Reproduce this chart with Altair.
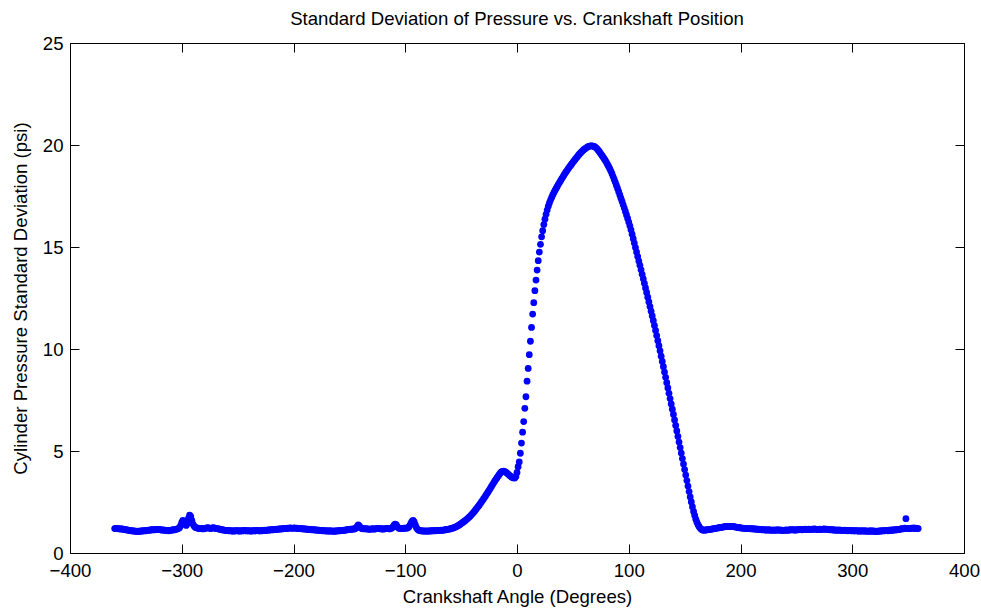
import altair as alt
import pandas as pd

# Standard deviation of cylinder pressure (psi), one value per crank degree, -360 .. 359
std_psi = [
    # -360
    1.20, 1.21, 1.19, 1.20, 1.18, 1.19, 1.17, 1.18, 1.16, 1.15,
    1.14, 1.13, 1.12, 1.11, 1.10, 1.09, 1.08, 1.08, 1.07, 1.07,
    1.06, 1.07, 1.06, 1.08, 1.07, 1.09, 1.08, 1.10, 1.09, 1.11,
    1.12, 1.11, 1.13, 1.14, 1.13, 1.15, 1.14, 1.16, 1.15, 1.16,
    1.15, 1.14, 1.13, 1.12, 1.13, 1.11, 1.10, 1.11, 1.09, 1.10,
    1.11, 1.12, 1.14, 1.13, 1.15, 1.16, 1.18, 1.20, 1.24, 1.34,
    # -300
    1.50, 1.60, 1.55, 1.42, 1.35, 1.45, 1.70, 1.85, 1.80, 1.60,
    1.42, 1.32, 1.26, 1.24, 1.22, 1.20, 1.21, 1.19, 1.20, 1.18,
    1.19, 1.21, 1.22, 1.24, 1.23, 1.21, 1.20, 1.22, 1.24, 1.23,
    1.21, 1.19, 1.20, 1.18, 1.17, 1.15, 1.14, 1.13, 1.12, 1.11,
    1.10, 1.11, 1.09, 1.10, 1.08, 1.09, 1.07, 1.08, 1.09, 1.10,
    1.08, 1.09, 1.07, 1.10, 1.08, 1.09, 1.11, 1.10, 1.08, 1.09,
    # -240
    1.10, 1.08, 1.07, 1.09, 1.10, 1.08, 1.09, 1.11, 1.10, 1.09,
    1.08, 1.10, 1.09, 1.11, 1.12, 1.10, 1.11, 1.13, 1.12, 1.14,
    1.13, 1.15, 1.14, 1.16, 1.15, 1.17, 1.16, 1.18, 1.17, 1.19,
    1.18, 1.20, 1.19, 1.21, 1.20, 1.22, 1.21, 1.23, 1.22, 1.21,
    1.22, 1.23, 1.21, 1.22, 1.20, 1.21, 1.19, 1.20, 1.18, 1.19,
    1.17, 1.18, 1.16, 1.17, 1.15, 1.16, 1.14, 1.15, 1.13, 1.14,
    # -180
    1.12, 1.13, 1.11, 1.12, 1.10, 1.11, 1.09, 1.10, 1.08, 1.09,
    1.08, 1.07, 1.09, 1.08, 1.07, 1.08, 1.06, 1.08, 1.07, 1.09,
    1.08, 1.10, 1.09, 1.11, 1.10, 1.12, 1.11, 1.13, 1.14, 1.16,
    1.15, 1.17, 1.16, 1.18, 1.17, 1.19, 1.22, 1.30, 1.38, 1.32,
    1.24, 1.20, 1.19, 1.18, 1.20, 1.19, 1.17, 1.18, 1.16, 1.17,
    1.18, 1.19, 1.17, 1.18, 1.20, 1.19, 1.21, 1.20, 1.18, 1.19,
    # -120
    1.17, 1.18, 1.20, 1.19, 1.21, 1.20, 1.18, 1.20, 1.22, 1.28,
    1.36, 1.42, 1.38, 1.28, 1.22, 1.20, 1.21, 1.19, 1.20, 1.22,
    1.21, 1.23, 1.22, 1.26, 1.34, 1.45, 1.55, 1.60, 1.52, 1.38,
    1.24, 1.16, 1.12, 1.10, 1.09, 1.08, 1.08, 1.07, 1.08, 1.07,
    1.08, 1.07, 1.08, 1.09, 1.08, 1.09, 1.10, 1.09, 1.10, 1.11,
    1.10, 1.11, 1.12, 1.11, 1.12, 1.13, 1.14, 1.15, 1.16, 1.17,
    # -60
    1.18, 1.20, 1.21, 1.23, 1.25, 1.27, 1.30, 1.33, 1.36, 1.40,
    1.44, 1.48, 1.52, 1.56, 1.60, 1.65, 1.70, 1.75, 1.80, 1.86,
    1.92, 1.98, 2.05, 2.12, 2.19, 2.26, 2.33, 2.41, 2.49, 2.57,
    2.65, 2.73, 2.81, 2.90, 2.98, 3.07, 3.16, 3.25, 3.34, 3.43,
    3.52, 3.60, 3.68, 3.76, 3.84, 3.91, 3.97, 4.00, 4.01, 3.99,
    3.96, 3.92, 3.87, 3.82, 3.77, 3.73, 3.70, 3.68, 3.68, 3.75,
    # 0
    3.95, 4.23, 4.46, 4.89, 5.39, 5.92, 6.44, 7.09, 7.66, 8.42,
    9.05, 9.72, 10.38, 11.06, 11.71, 12.27, 12.86, 13.38, 13.87, 14.33,
    14.75, 15.13, 15.50, 15.80, 16.10, 16.36, 16.60, 16.81, 17.00, 17.16,
    17.30, 17.43, 17.55, 17.66, 17.77, 17.87, 17.97, 18.07, 18.16, 18.25,
    18.34, 18.43, 18.52, 18.61, 18.69, 18.77, 18.85, 18.93, 19.00, 19.07,
    19.15, 19.22, 19.29, 19.36, 19.43, 19.50, 19.56, 19.62, 19.68, 19.73,
    # 60
    19.78, 19.82, 19.86, 19.90, 19.93, 19.95, 19.96, 19.96, 19.95, 19.93,
    19.90, 19.85, 19.79, 19.72, 19.65, 19.57, 19.49, 19.41, 19.33, 19.24,
    19.15, 19.05, 18.95, 18.84, 18.72, 18.59, 18.45, 18.31, 18.17, 18.02,
    17.87, 17.71, 17.55, 17.39, 17.23, 17.07, 16.91, 16.74, 16.57, 16.40,
    16.22, 16.04, 15.84, 15.63, 15.41, 15.19, 14.97, 14.75, 14.53, 14.31,
    14.10, 13.88, 13.66, 13.44, 13.22, 12.99, 12.77, 12.54, 12.31, 12.08,
    # 120
    11.85, 11.62, 11.39, 11.15, 10.91, 10.66, 10.41, 10.16, 9.91, 9.65,
    9.39, 9.13, 8.87, 8.61, 8.35, 8.09, 7.83, 7.57, 7.31, 7.05,
    6.79, 6.52, 6.25, 5.98, 5.71, 5.44, 5.17, 4.90, 4.63, 4.36,
    4.09, 3.82, 3.55, 3.28, 3.01, 2.75, 2.50, 2.26, 2.04, 1.84,
    1.66, 1.51, 1.39, 1.29, 1.21, 1.16, 1.13, 1.12, 1.12, 1.13,
    1.14, 1.15, 1.15, 1.16, 1.17, 1.18, 1.19, 1.20, 1.21, 1.22,
    # 180
    1.23, 1.24, 1.25, 1.26, 1.27, 1.28, 1.29, 1.30, 1.30, 1.31,
    1.31, 1.31, 1.30, 1.30, 1.29, 1.28, 1.27, 1.26, 1.25, 1.24,
    1.23, 1.22, 1.22, 1.21, 1.21, 1.20, 1.20, 1.19, 1.20, 1.19,
    1.18, 1.19, 1.18, 1.17, 1.18, 1.16, 1.17, 1.15, 1.16, 1.14,
    1.15, 1.13, 1.14, 1.12, 1.13, 1.14, 1.12, 1.13, 1.11, 1.12,
    1.13, 1.11, 1.12, 1.14, 1.12, 1.13, 1.11, 1.12, 1.10, 1.11,
    # 240
    1.12, 1.13, 1.11, 1.12, 1.14, 1.13, 1.15, 1.13, 1.14, 1.12,
    1.13, 1.15, 1.14, 1.16, 1.15, 1.14, 1.16, 1.15, 1.17, 1.16,
    1.15, 1.17, 1.16, 1.15, 1.17, 1.16, 1.18, 1.17, 1.16, 1.15,
    1.16, 1.17, 1.15, 1.16, 1.17, 1.18, 1.16, 1.17, 1.15, 1.16,
    1.14, 1.15, 1.13, 1.14, 1.12, 1.13, 1.11, 1.12, 1.13, 1.11,
    1.12, 1.10, 1.11, 1.12, 1.10, 1.11, 1.09, 1.10, 1.11, 1.09,
    # 300
    1.10, 1.08, 1.09, 1.10, 1.08, 1.09, 1.07, 1.08, 1.09, 1.07,
    1.08, 1.09, 1.07, 1.08, 1.06, 1.08, 1.07, 1.09, 1.06, 1.08,
    1.07, 1.05, 1.07, 1.06, 1.08, 1.07, 1.09, 1.08, 1.10, 1.09,
    1.10, 1.11, 1.09, 1.12, 1.10, 1.13, 1.11, 1.14, 1.12, 1.15,
    1.14, 1.16, 1.15, 1.17, 1.19, 1.18, 1.20, 1.22, 1.68, 1.20,
    1.19, 1.21, 1.20, 1.22, 1.21, 1.23, 1.20, 1.22, 1.21, 1.20,
]
angles = list(range(-360, -360 + len(std_psi)))

x_ticks = [-400, -300, -200, -100, 0, 100, 200, 300, 400]
y_ticks = [0, 5, 10, 15, 20, 25]

df = pd.DataFrame({"angle": angles, "std": std_psi})

W, H = 894, 510
FONT = "Liberation Sans"
FS = 18.6

xscale = alt.Scale(domain=[-400, 400], nice=False, zero=False)
yscale = alt.Scale(domain=[0, 25], nice=False, zero=False)

base = alt.Chart(df)

points = base.mark_circle(size=46, color="#0000ff", opacity=1).encode(
    x=alt.X("angle:Q", scale=xscale,
            axis=alt.Axis(orient="bottom", values=x_ticks, ticks=False, tickSize=0,
                          domain=False, grid=False, labelFont=FONT, labelFontSize=FS,
                          labelColor="black", labelPadding=8, labelFlush=False,
                          labelOverlap=False,
                          title="Crankshaft Angle (Degrees)", titleFont=FONT,
                          titleFontSize=FS, titleFontWeight="normal", titleColor="black",
                          titleX=W / 2, titleY=43, titleBaseline="middle",
                          titleAlign="center")),
    y=alt.Y("std:Q", scale=yscale,
            axis=alt.Axis(orient="left", values=y_ticks, ticks=False, tickSize=0,
                          domain=False, grid=False, labelFont=FONT, labelFontSize=FS,
                          labelColor="black", labelPadding=7, labelFlush=False,
                          labelOverlap=False,
                          title="Cylinder Pressure Standard Deviation (psi)",
                          titleFont=FONT, titleFontSize=FS, titleFontWeight="normal",
                          titleColor="black", titleX=-50, titleY=H / 2,
                          titleAngle=270, titleBaseline="middle", titleAlign="center")),
)


def tick_axis(orient, offset, vals):
    return alt.Axis(orient=orient, offset=offset, values=vals, ticks=True, tickSize=9,
                    tickColor="black", tickWidth=1, labels=False, domain=False,
                    grid=False, title="")


ticks_a = base.mark_circle(opacity=0).encode(
    x=alt.X("angle:Q", scale=xscale, axis=tick_axis("top", -H, x_ticks)),
    y=alt.Y("std:Q", scale=yscale, axis=tick_axis("right", -W, y_ticks)),
)
ticks_b = base.mark_circle(opacity=0).encode(
    x=alt.X("angle:Q", scale=xscale, axis=tick_axis("bottom", -H, x_ticks)),
    y=alt.Y("std:Q", scale=yscale, axis=tick_axis("left", -W, y_ticks)),
)

chart = (
    alt.layer(points, ticks_a, ticks_b)
    .resolve_axis(x="independent", y="independent")
    .properties(
        width=W, height=H,
        padding={"left": 70, "top": 43, "right": 17, "bottom": 55},
        autosize=alt.AutoSizeParams(type="none"),
        title=alt.TitleParams(text="Standard Deviation of Pressure vs. Crankshaft Position",
                              font=FONT, fontSize=FS, fontWeight="normal", color="black",
                              anchor="middle", offset=5),
        background="white",
    )
    .configure_view(stroke="black", strokeWidth=1)
)

chart.save("out.html", embed_options={"renderer": "svg", "actions": False})
